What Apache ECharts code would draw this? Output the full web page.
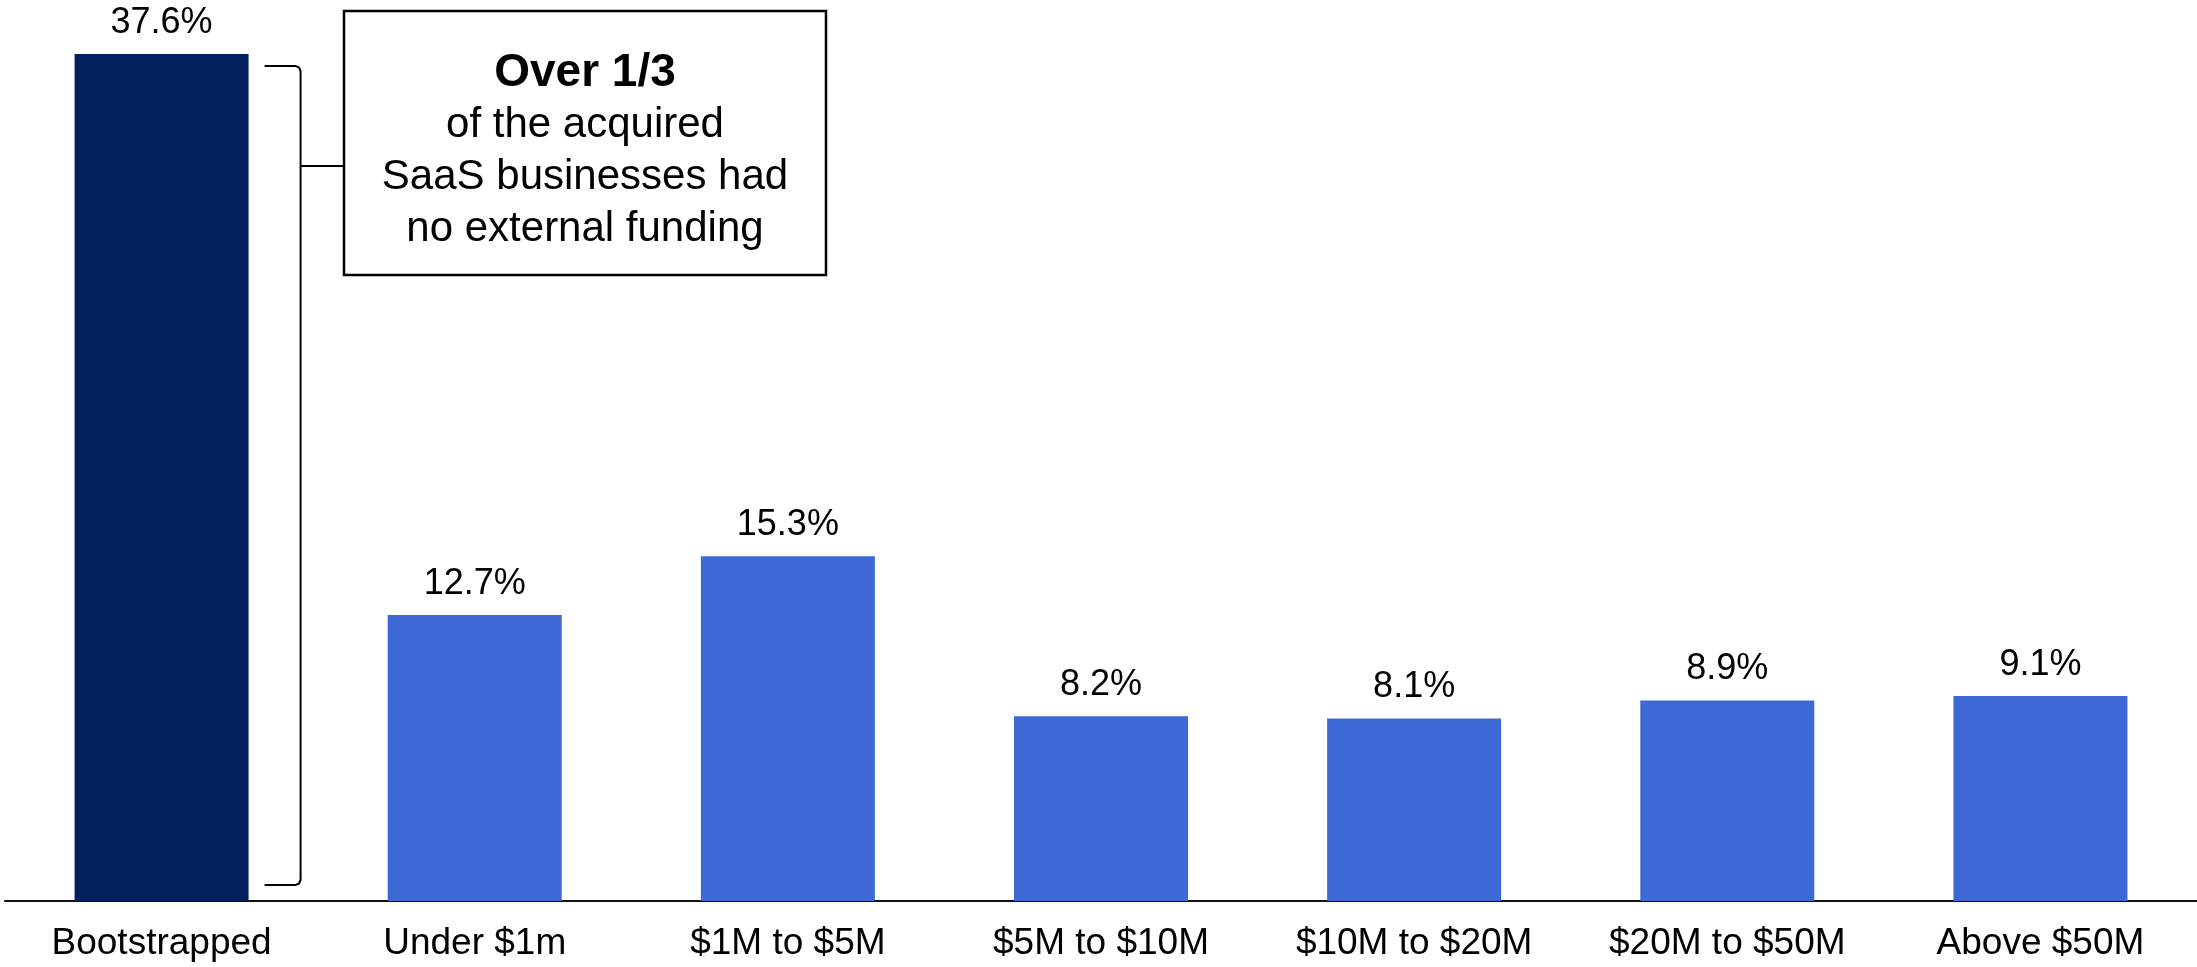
<!DOCTYPE html>
<html>
<head>
<meta charset="utf-8">
<script src="https://cdn.jsdelivr.net/npm/echarts@6/dist/echarts.min.js"></script>
<style>
html,body{margin:0;padding:0;background:#fff;}
#main{width:2197px;height:967px;}
</style>
</head>
<body>
<div id="main"></div>
<script>
const categories = ['Bootstrapped', 'Under $1m', '$1M to $5M', '$5M to $10M', '$10M to $20M', '$20M to $50M', 'Above $50M'];
const values = [37.6, 12.7, 15.3, 8.2, 8.1, 8.9, 9.1];
const calloutLines = ['Over 1/3', 'of the acquired', 'SaaS businesses had', 'no external funding'];

const DARK = '#03205D';
const BLUE = '#3C69D4';
const FONT = '"Liberation Sans", Arial, Helvetica, sans-serif';

const chart = echarts.init(document.getElementById('main'), null, {renderer: 'canvas'});

chart.setOption({
  animation: false,
  backgroundColor: '#ffffff',
  textStyle: {fontFamily: FONT},
  grid: {left: 5, width: 2194, top: 0, bottom: 66, containLabel: false},
  xAxis: {
    type: 'category',
    data: categories,
    axisLine: {show: true, lineStyle: {color: '#111', width: 2}},
    axisTick: {show: false},
    axisLabel: {interval: 0, fontSize: 37, color: '#000', margin: 24, fontFamily: FONT}
  },
  yAxis: {
    type: 'value', min: 0, max: 40, show: false,
    splitLine: {show: false}
  },
  series: [{
    type: 'bar',
    barWidth: 174,
    data: values.map((v, i) => ({value: v, itemStyle: {color: i === 0 ? DARK : BLUE}})),
    label: {
      show: true, position: 'top', distance: 13,
      formatter: p => p.value.toFixed(1) + '%',
      fontSize: 36, color: '#000', fontFamily: FONT
    }
  }]
});

// Annotation: bracket next to first bar + callout box
const top0 = chart.convertToPixel({seriesIndex: 0}, [0, values[0]]);
const base0 = chart.convertToPixel({seriesIndex: 0}, [0, 0]);
const barRight = top0[0] + 87;
const bx = barRight + 52;
const tipX = barRight + 16;
const yTop = top0[1] + 12;
const yBot = base0[1] - 16;
const boxL = 344, boxT = 11, boxW = 482, boxH = 264;
const connY = 166;

chart.setOption({
  graphic: [
    {
      type: 'polyline',
      shape: {points: [[tipX, yTop], [bx - 5, yTop], [bx - 1.5, yTop + 1.5], [bx, yTop + 5], [bx, yBot - 5], [bx - 1.5, yBot - 1.5], [bx - 5, yBot], [tipX, yBot]]},
      style: {stroke: '#000', lineWidth: 2, fill: null}
    },
    {
      type: 'line',
      shape: {x1: bx, y1: connY, x2: boxL, y2: connY},
      style: {stroke: '#000', lineWidth: 2}
    },
    {
      type: 'rect',
      shape: {x: boxL, y: boxT, width: boxW, height: boxH},
      style: {stroke: '#000', lineWidth: 2.5, fill: '#fff'}
    },
    {
      type: 'text',
      x: boxL + boxW / 2,
      y: 151,
      style: {
        text: '{b|' + calloutLines[0] + '}\n' + calloutLines.slice(1).map(s => '{r|' + s + '}').join('\n'),
        align: 'center',
        verticalAlign: 'middle',
        fill: '#000',
        fontFamily: FONT,
        rich: {
          b: {fontSize: 46, fontWeight: 'bold', lineHeight: 52, fontFamily: FONT, fill: '#000'},
          r: {fontSize: 42, lineHeight: 52, fontFamily: FONT, fill: '#000'}
        }
      }
    }
  ]
});
</script>
</body>
</html>
